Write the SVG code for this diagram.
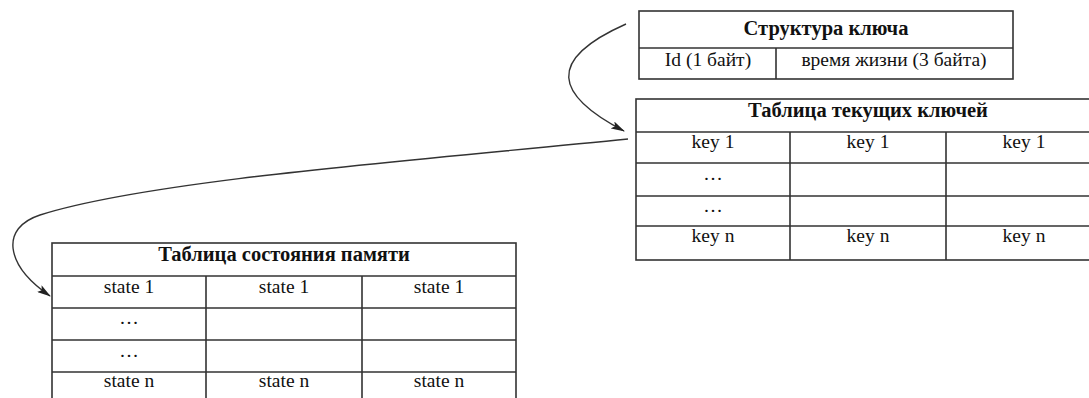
<svg xmlns="http://www.w3.org/2000/svg" width="1089" height="398" viewBox="0 0 1089 398" font-family="'Liberation Serif', 'DejaVu Serif', serif">
  <style>
    .cell { fill: #ffffff; stroke: #333333; stroke-width: 1.6; }
    .grid { stroke: #333333; stroke-width: 1.6; fill: none; }
    .hdr { font-family: 'Liberation Serif', 'DejaVu Serif', serif; font-size: 20.5px; font-weight: bold; fill: #111111; text-anchor: middle; }
    .txt { font-family: 'Liberation Serif', 'DejaVu Serif', serif; font-size: 19.5px; fill: #111111; text-anchor: middle; }
    .link { fill: none; stroke: #333333; stroke-width: 1.4; marker-end: url(#head); }
  </style>
  <defs>
    <marker id="head" viewBox="0 0 14 8" refX="13" refY="4" markerWidth="14" markerHeight="8" markerUnits="userSpaceOnUse" orient="auto">
      <path d="M0,0 L14,4 L0,8 L3,4 Z" fill="#222222"/>
    </marker>
  </defs>
  <rect width="1089" height="398" fill="#ffffff"/>

  <!-- key structure -->
  <g id="key-structure">
    <rect class="cell" x="639" y="11" width="374" height="68"/>
    <path class="grid" d="M639,48 H1013 M776,48 V79"/>
    <text class="hdr" x="826" y="35">Структура ключа</text>
    <text class="txt" x="708" y="66">Id (1 байт)</text>
    <text class="txt" x="894" y="66">время жизни (3 байта)</text>
  </g>

  <!-- current keys table -->
  <g id="current-keys">
    <rect class="cell" x="636" y="99" width="466" height="161"/>
    <path class="grid" d="M636,132 H1102 M636,163 H1102 M636,196 H1102 M636,226 H1102 M790,132 V260 M946,132 V260"/>
    <text class="hdr" x="868" y="117">Таблица текущих ключей</text>
    <text class="txt" x="713" y="148">key 1</text>
    <text class="txt" x="868" y="148">key 1</text>
    <text class="txt" x="1024" y="148">key 1</text>
    <text class="txt" x="713" y="180">…</text>
    <text class="txt" x="713" y="212">…</text>
    <text class="txt" x="713" y="242">key n</text>
    <text class="txt" x="868" y="242">key n</text>
    <text class="txt" x="1024" y="242">key n</text>
  </g>

  <!-- memory state table -->
  <g id="memory-state">
    <rect class="cell" x="52" y="243" width="464" height="170"/>
    <path class="grid" d="M52,276 H516 M52,308 H516 M52,340 H516 M52,372 H516 M206,276 V413 M362,276 V413"/>
    <text class="hdr" x="284" y="261">Таблица состояния памяти</text>
    <text class="txt" x="129" y="293">state 1</text>
    <text class="txt" x="284" y="293">state 1</text>
    <text class="txt" x="439" y="293">state 1</text>
    <text class="txt" x="129" y="324">…</text>
    <text class="txt" x="129" y="357">…</text>
    <text class="txt" x="129" y="387">state n</text>
    <text class="txt" x="284" y="387">state n</text>
    <text class="txt" x="439" y="387">state n</text>
  </g>

  <!-- connectors -->
  <g id="connectors">
    <path class="link" d="M626,24 C545,60 555,95 624,131"/>
    <path class="link" d="M628,139 C420,160 150,180 40,215 C0,228 5,265 50,296"/>
  </g>
</svg>
